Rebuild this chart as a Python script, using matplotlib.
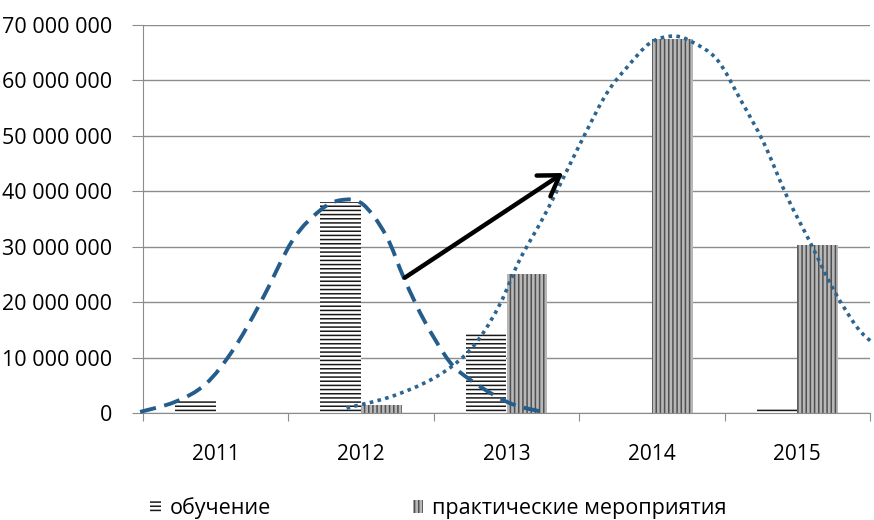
import matplotlib.pyplot as plt
from matplotlib.path import Path
from matplotlib.patches import PathPatch
from matplotlib.ticker import FuncFormatter
import numpy as np

plt.rcParams['font.family'] = ['Open Sans', 'DejaVu Sans']
plt.rcParams['hatch.linewidth'] = 1.1

years = ['2011', '2012', '2013', '2014', '2015']
obuchenie = [2.2e6, 38.0e6, 14.3e6, 0, 0.7e6]
praktika = [0, 1.5e6, 25.1e6, 67.5e6, 30.3e6]

# hand-drawn trend curves, knots (x in category units, y in millions)
dash_x = [-0.52, -0.28, -0.07, 0.12, 0.31, 0.53, 0.72, 0.86, 1.01, 1.17, 1.30, 1.44, 1.61, 1.75, 1.91, 2.06, 2.25]
dash_y = [0.2, 2.0, 5.2, 11.4, 20.0, 31.2, 36.6, 38.4, 37.7, 32.1, 24.0, 16.4, 9.2, 6.0, 3.3, 1.4, 0.2]
dot_x = [0.90, 1.20, 1.48, 1.68, 1.82, 1.96, 2.09, 2.28, 2.53, 2.69, 2.83, 2.99, 3.15, 3.28, 3.45,
         3.61, 3.77, 3.93, 4.09, 4.25, 4.41, 4.52]
dot_y = [0.9, 2.9, 6.0, 9.6, 13.7, 19.9, 27.6, 36.6, 49.8, 57.7, 62.4, 66.8, 68.0, 66.9, 63.7,
         56.5, 48.7, 39.0, 30.7, 22.2, 15.5, 12.6]
arrow_from = (1.30, 24.4e6)
arrow_to = (2.39, 43.3e6)


def smooth_path(xs, ys):
    # Catmull-Rom knots -> cubic bezier path, drawn by matplotlib
    p = np.column_stack([xs, np.array(ys) * 1e6])
    p = np.vstack([p[0], p, p[-1]])
    verts = [p[1]]
    codes = [Path.MOVETO]
    for i in range(1, len(p) - 2):
        c1 = p[i] + (p[i + 1] - p[i - 1]) / 6
        c2 = p[i + 1] - (p[i + 2] - p[i]) / 6
        verts += [c1, c2, p[i + 1]]
        codes += [Path.CURVE4] * 3
    return Path(verts, codes)


fig = plt.figure(figsize=(8.74, 5.2), dpi=100)
ax = fig.add_axes([143 / 874, 1 - 413 / 520, 727 / 874, 388 / 520])

x = np.arange(len(years))
w = 0.28
ax.bar(x - w / 2, obuchenie, w, facecolor='white', edgecolor='#1a1a1a', hatch='----',
       linewidth=0, label='обучение', zorder=2)
ax.bar(x + w / 2, praktika, w, facecolor='#b8b8b8', edgecolor='#505050', hatch='||||',
       linewidth=0, label='практические мероприятия', zorder=2)

ax.add_patch(PathPatch(smooth_path(dash_x, dash_y), fill=False, edgecolor='#245d8c', lw=2.8,
                       linestyle=(0, (4.2, 2.2)), capstyle='butt', clip_on=False, zorder=3))
ax.add_patch(PathPatch(smooth_path(dot_x, dot_y), fill=False, edgecolor='#2b6592', lw=2.6,
                       linestyle=(0, (1, 1.2)), capstyle='butt', clip_on=False, zorder=3))
ax.annotate('', xy=arrow_to, xytext=arrow_from,
            arrowprops=dict(arrowstyle='->,head_length=0.7,head_width=0.45', lw=3.2, color='black',
                            mutation_scale=20, shrinkA=0, shrinkB=0), zorder=4)

ax.set_xlim(-0.5, 4.5)
ax.set_ylim(0, 70e6)
ax.set_yticks(np.arange(0, 70e6 + 1, 10e6))
ax.yaxis.set_major_formatter(FuncFormatter(lambda v, p: f'{v:,.0f}'.replace(',', ' ')))
ax.grid(axis='y', color='#8c8c8c', lw=1, zorder=0)
ax.set_axisbelow(True)

ax.set_xticks(np.arange(-0.5, 4.6, 1))
ax.set_xticklabels([])
ax.set_xticks(x, minor=True)
ax.set_xticklabels(years, minor=True)
ax.tick_params(axis='x', which='major', length=6, color='#8c8c8c', direction='out')
ax.tick_params(axis='x', which='minor', length=0, pad=22, labelsize=15)
ax.tick_params(axis='y', length=8, color='#8c8c8c', pad=14, labelsize=15.5)

for s in ['top', 'right']:
    ax.spines[s].set_visible(False)
ax.spines['left'].set_color('#8c8c8c')
ax.spines['bottom'].set_color('#8c8c8c')

fig.legend(loc='center left', bbox_to_anchor=(150 / 874, 1 - 508 / 520), ncol=2, frameon=False,
           fontsize=15.5, handlelength=0.5, handleheight=0.6, handletextpad=0.4,
           columnspacing=6.6, borderpad=0, borderaxespad=0)

fig.savefig('out.png', dpi=100)
